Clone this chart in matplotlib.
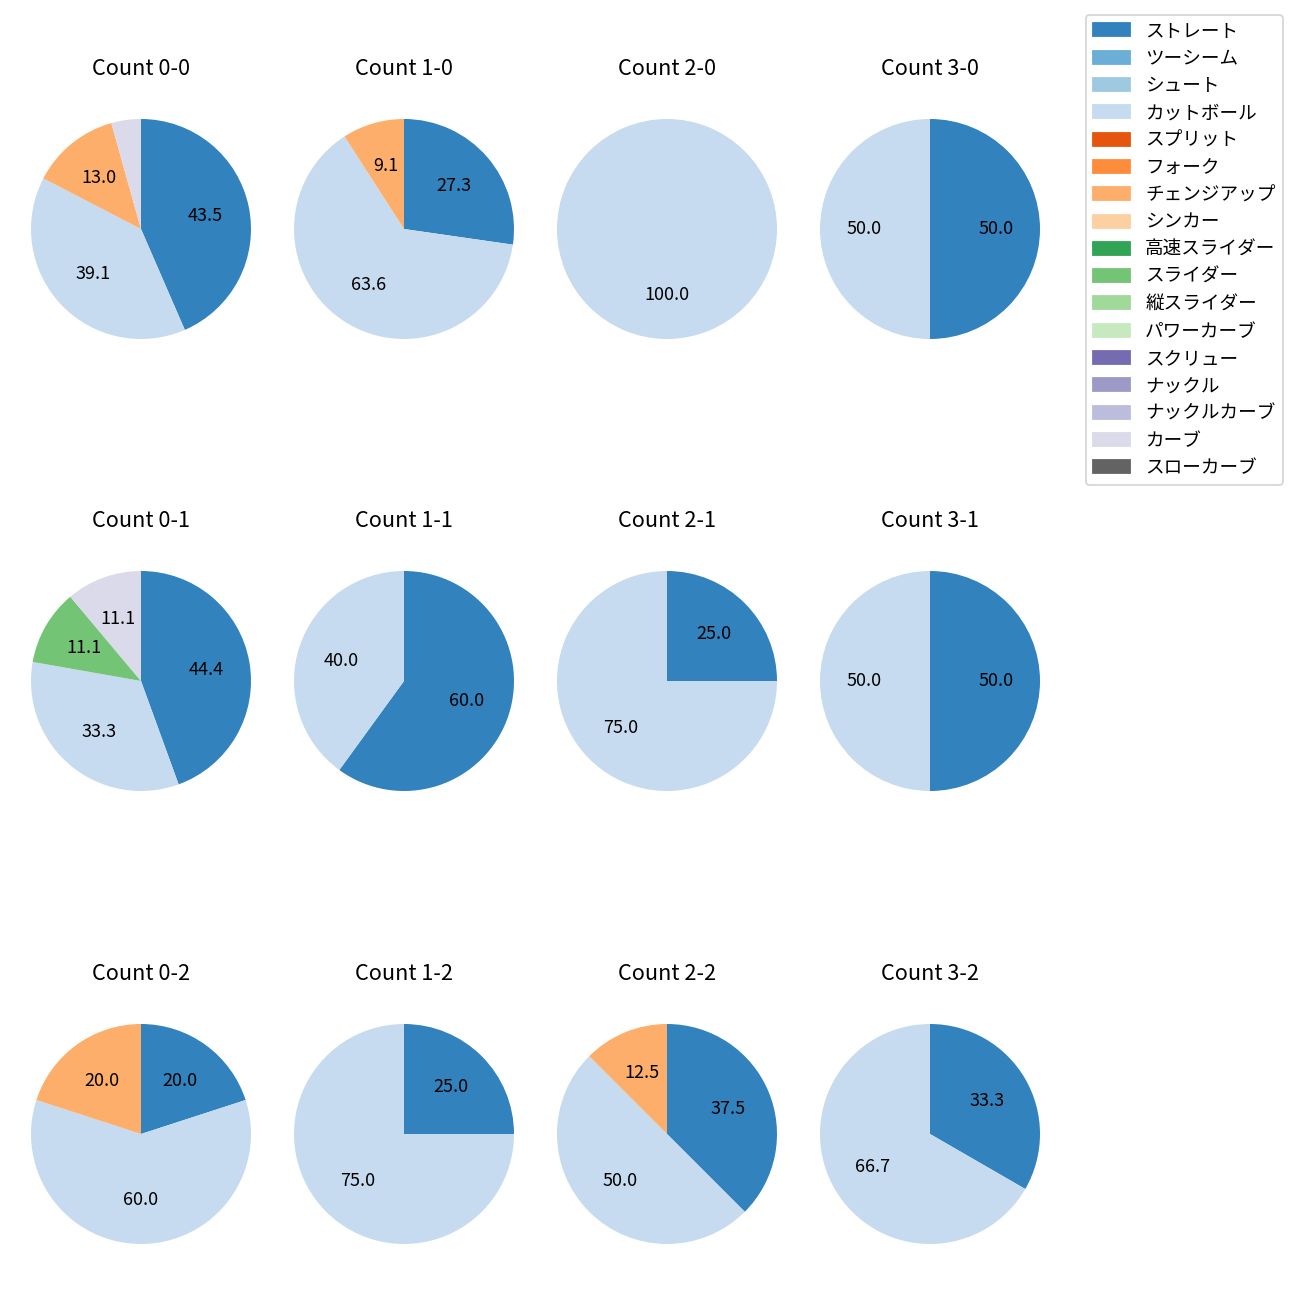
import matplotlib.pyplot as plt
import matplotlib.patches as mpatches

plt.rcParams['font.family'] = ['Noto Sans CJK JP', 'DejaVu Sans']

pitch_types = ['ストレート', 'ツーシーム', 'シュート', 'カットボール', 'スプリット', 'フォーク',
               'チェンジアップ', 'シンカー', '高速スライダー', 'スライダー', '縦スライダー',
               'パワーカーブ', 'スクリュー', 'ナックル', 'ナックルカーブ', 'カーブ', 'スローカーブ']

# panel order: 0-0, 1-0, 2-0, 3-0, 0-1, 1-1, 2-1, 3-1, 0-2, 1-2, 2-2, 3-2
count_labels = ['0-0', '1-0', '2-0', '3-0', '0-1', '1-1', '2-1', '3-1', '0-2', '1-2', '2-2', '3-2']

straight = [10, 3, 0, 1, 4, 3, 1, 1, 1, 1, 3, 1]
cutter = [9, 7, 1, 1, 3, 2, 3, 1, 3, 3, 4, 2]
changeup = [3, 1, 0, 0, 0, 0, 0, 0, 1, 0, 1, 0]
slider = [0, 0, 0, 0, 1, 0, 0, 0, 0, 0, 0, 0]
curve = [1, 0, 0, 0, 1, 0, 0, 0, 0, 0, 0, 0]

pitch_counts = {
    'ストレート': straight,
    'カットボール': cutter,
    'チェンジアップ': changeup,
    'スライダー': slider,
    'カーブ': curve,
}

cmap = plt.get_cmap('tab20c')
colors = {p: cmap(i) for i, p in enumerate(pitch_types)}

fig = plt.figure(figsize=(10, 10), dpi=130)

centers_x = [141, 404, 667, 930]
centers_y = [229, 681, 1134]
size = 275
W = 1300

for i, label in enumerate(count_labels):
    row, col = divmod(i, 4)
    cx, cy = centers_x[col], centers_y[row]
    ax = fig.add_axes([(cx - size / 2) / W, 1 - (cy + size / 2) / W, size / W, size / W])
    vals, cols = [], []
    for p in pitch_types:
        if p in pitch_counts and pitch_counts[p][i] > 0:
            vals.append(pitch_counts[p][i])
            cols.append(colors[p])
    ax.pie(vals, colors=cols, startangle=90, counterclock=False,
           autopct=lambda pct: f'{pct:.1f}' if pct >= 5 else '',
           textprops={'fontsize': 10})
    ax.set_title(f'Count {label}', fontsize=12, pad=9)

handles = [mpatches.Patch(color=colors[p], label=p) for p in pitch_types]
fig.legend(handles=handles, loc='upper right', bbox_to_anchor=(1283 / W, 1 - 15 / W),
           borderaxespad=0, fontsize=10.3)

fig.savefig('out.png')
